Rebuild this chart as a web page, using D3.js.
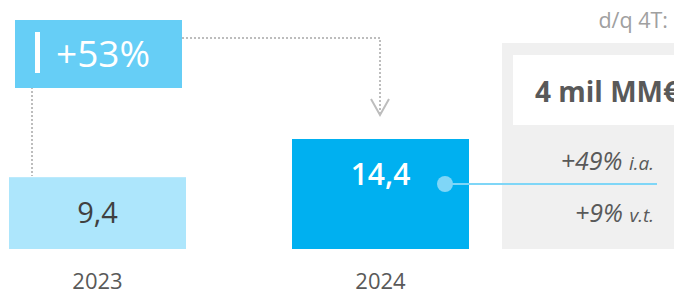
<!DOCTYPE html>
<html lang="es">
<head>
<meta charset="UTF-8">
<title>Crecimiento 2023-2024</title>
<script src="https://d3js.org/d3.v7.min.js"></script>
<style>
  body { margin: 0; background: #fff; font-family: "Open Sans", "Noto Sans", sans-serif; }
  svg { display: block; }
</style>
</head>
<body>
<svg id="chart" width="674" height="295"></svg>
<script>
  // data
  const years = ["2023", "2024"];
  const values = [9.4, 14.4];
  const valueLabels = ["9,4", "14,4"];
  const growthLabel = "+53%";
  const sideTitle = "d/q 4T:";
  const sideAmount = "4 mil MM€";
  const sideRates = [["+49%", "i.a."], ["+9%", "v.t."]];

  const svg = d3.select("#chart");
  const baseY = 249;

  const x = d3.scaleBand()
    .domain(years)
    .range([9, 469])
    .paddingInner(106 / 283)
    .paddingOuter(0);

  const y = d3.scaleLinear()
    .domain([0, 14.4])
    .range([baseY, 139]);

  const barColors = ["#ade6fc", "#00b0f0"];
  const textColors = ["#404040", "#ffffff"];

  // side panel (the amount runs off the right edge, as in the original)
  svg.append("rect")
    .attr("x", 502).attr("y", 43)
    .attr("width", 180).attr("height", baseY - 43)
    .attr("fill", "#f0f0f0");
  svg.append("rect")
    .attr("x", 513).attr("y", 55)
    .attr("width", 170).attr("height", 70)
    .attr("fill", "#ffffff");
  svg.append("text")
    .attr("x", 535).attr("y", 102)
    .attr("font-size", 28).attr("font-weight", 700)
    .attr("fill", "#595959")
    .text(sideAmount);
  svg.append("text")
    .attr("x", 668).attr("y", 28)
    .attr("text-anchor", "end")
    .attr("font-size", 21.5)
    .attr("fill", "#a0a0a0")
    .text(sideTitle);

  const rateY = [170, 222];
  sideRates.forEach((r, i) => {
    const t = svg.append("text")
      .attr("x", 654).attr("y", rateY[i])
      .attr("text-anchor", "end")
      .attr("font-style", "italic")
      .attr("fill", "#595959");
    t.append("tspan").attr("font-size", 25).text(r[0] + " ");
    t.append("tspan").attr("font-size", 19).text(r[1]);
  });

  // bars
  svg.selectAll(".bar")
    .data(years)
    .enter()
    .append("rect")
    .attr("class", "bar")
    .attr("x", d => x(d))
    .attr("y", (d, i) => y(values[i]))
    .attr("width", x.bandwidth())
    .attr("height", (d, i) => baseY - y(values[i]))
    .attr("fill", (d, i) => barColors[i]);

  svg.selectAll(".val")
    .data(years)
    .enter()
    .append("text")
    .attr("x", d => x(d) + x.bandwidth() / 2)
    .attr("y", (d, i) => i === 0 ? 223 : 185)
    .attr("text-anchor", "middle")
    .attr("font-size", (d, i) => i === 0 ? 29 : 30)
    .attr("font-weight", (d, i) => i === 0 ? 400 : 600)
    .attr("fill", (d, i) => textColors[i])
    .text((d, i) => valueLabels[i]);

  svg.selectAll(".year")
    .data(years)
    .enter()
    .append("text")
    .attr("x", d => x(d) + x.bandwidth() / 2)
    .attr("y", 289)
    .attr("text-anchor", "middle")
    .attr("font-size", 22)
    .attr("fill", "#595959")
    .text(d => d);

  // connector from 2024 bar to side panel
  const cy = 184;
  svg.append("line")
    .attr("x1", 445).attr("y1", cy)
    .attr("x2", 657).attr("y2", cy)
    .attr("stroke", "#7fd6f7").attr("stroke-width", 2);
  svg.append("circle")
    .attr("cx", 445).attr("cy", cy).attr("r", 8)
    .attr("fill", "#7fd6f7");

  // growth arrow (dotted)
  const dot = { stroke: "#bdbdbd", "stroke-width": 2, "stroke-dasharray": "2,2", fill: "none" };
  const path1 = svg.append("path")
    .attr("d", `M182,38 H380 V114`);
  const path2 = svg.append("path")
    .attr("d", `M32,83 V176`);
  [path1, path2].forEach(p => Object.entries(dot).forEach(([k, v]) => p.attr(k, v)));
  svg.append("path")
    .attr("d", "M371,99 L380,115 L389,99")
    .attr("fill", "none")
    .attr("stroke", "#bdbdbd")
    .attr("stroke-width", 2);

  // growth label box
  svg.append("rect")
    .attr("x", 15).attr("y", 20)
    .attr("width", 167).attr("height", 68)
    .attr("fill", "#66cef6");
  svg.append("rect")
    .attr("x", 35).attr("y", 32)
    .attr("width", 5).attr("height", 41)
    .attr("fill", "#ffffff");
  svg.append("text")
    .attr("x", 56).attr("y", 67)
    .attr("font-size", 37)
    .attr("fill", "#ffffff")
    .text(growthLabel);
</script>
</body>
</html>
